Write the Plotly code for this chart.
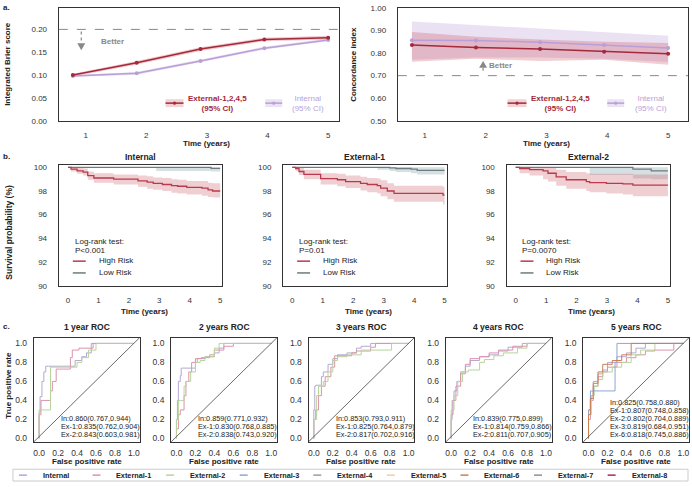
import plotly.graph_objects as go

W, H = 692, 487
FONT = "Liberation Sans, Arial, sans-serif"

# ---------------- a. Brier score / concordance index ----------------
years = [1, 2, 3, 4, 5]
year_labels = ["1", "2", "3", "4", "5"]

brier_ext = [0.100, 0.127, 0.157, 0.178, 0.182]
brier_ext_lo = [0.097, 0.123, 0.153, 0.174, 0.178]
brier_ext_hi = [0.103, 0.131, 0.161, 0.182, 0.186]
brier_int = [0.098, 0.104, 0.131, 0.159, 0.177]
brier_int_lo = [0.096, 0.101, 0.128, 0.156, 0.174]
brier_int_hi = [0.100, 0.107, 0.134, 0.162, 0.180]

cindex_ext = [0.836, 0.825, 0.818, 0.806, 0.797]
cindex_ext_lo = [0.762, 0.775, 0.765, 0.770, 0.748]
cindex_ext_hi = [0.893, 0.872, 0.860, 0.850, 0.845]
cindex_int = [0.857, 0.856, 0.848, 0.836, 0.822]
cindex_int_lo = [0.770, 0.780, 0.780, 0.775, 0.760]
cindex_int_hi = [0.940, 0.925, 0.910, 0.895, 0.877]

# ---------------- b. Kaplan-Meier curves ----------------
km_int_high_t = [0, 0.1, 0.3, 0.5, 0.65, 0.85, 1.5, 2.3, 2.6, 2.8, 3.1, 3.4, 3.6, 3.9, 4.4, 4.6, 4.75, 5.0]
km_int_high_s = [100, 99.85, 99.7, 99.6, 99.3, 99.1, 99.0, 98.85, 98.75, 98.65, 98.55, 98.45, 98.4, 98.3, 98.25, 98.1, 98.0, 98.0]
km_int_high_lo = [100, 99.65, 99.45, 99.3, 98.95, 98.7, 98.55, 98.35, 98.2, 98.1, 98.0, 97.85, 97.8, 97.7, 97.6, 97.5, 97.45, 97.45]
km_int_high_hi = [100, 100, 99.95, 99.9, 99.65, 99.5, 99.4, 99.3, 99.25, 99.15, 99.1, 99.0, 98.95, 98.85, 98.85, 98.7, 98.65, 98.65]
km_int_low_t = [0, 2.9, 4.7, 5.0]
km_int_low_s = [100, 100, 99.92, 99.92]
km_int_low_lo = [100, 99.7, 99.65, 99.65]
km_int_low_hi = [100, 100, 100, 100]

km_ex1_high_t = [0, 0.11, 0.22, 0.38, 0.93, 1.48, 1.75, 2.24, 2.46, 2.79, 2.9, 3.12, 3.34, 4.95, 5.0]
km_ex1_high_s = [100, 99.9, 99.65, 99.4, 99.05, 98.95, 98.8, 98.65, 98.55, 98.45, 98.25, 98.0, 97.8, 97.65, 97.65]
km_ex1_high_lo = [100, 99.7, 99.35, 99.0, 98.55, 98.4, 98.25, 98.05, 97.9, 97.8, 97.55, 97.3, 97.1, 96.85, 96.85]
km_ex1_high_hi = [100, 100, 99.95, 99.8, 99.5, 99.45, 99.3, 99.2, 99.1, 99.05, 98.9, 98.65, 98.45, 98.35, 98.35]
km_ex1_low_t = [0, 2.8, 3.2, 3.4, 3.9, 4.1, 5.0]
km_ex1_low_s = [100, 100, 99.95, 99.9, 99.85, 99.75, 99.75]
km_ex1_low_lo = [100, 99.8, 99.7, 99.6, 99.5, 99.4, 99.35]
km_ex1_low_hi = [100, 100, 100, 100, 100, 100, 100]

km_ex2_high_t = [0, 0.13, 0.46, 0.9, 1.06, 1.33, 1.66, 2.32, 2.43, 2.98, 3.52, 3.85, 5.0]
km_ex2_high_s = [100, 99.9, 99.8, 99.7, 99.5, 99.2, 98.95, 98.8, 98.7, 98.65, 98.6, 98.5, 98.5]
km_ex2_high_lo = [100, 99.5, 99.3, 99.0, 98.8, 98.45, 98.2, 98.0, 97.9, 97.8, 97.7, 97.55, 97.5]
km_ex2_high_hi = [100, 100, 100, 100, 99.95, 99.8, 99.6, 99.5, 99.45, 99.45, 99.45, 99.4, 99.4]
km_ex2_low_t = [0, 2.43, 3.85, 4.45, 5.0]
km_ex2_low_s = [100, 100, 99.85, 99.7, 99.7]
km_ex2_low_lo = [100, 99.35, 99.05, 99.0, 99.0]
km_ex2_low_hi = [100, 100, 100, 100, 100]

km_titles = ["Internal", "External-1", "External-2"]
km_pvalues = ["P<0.001", "P=0.01", "P=0.0070"]

# ---------------- c. time-dependent ROC ----------------
roc_1y = {
    "Internal": ([0, 0.01, 0.03, 0.05, 0.07, 0.1, 0.38, 0.45, 0.5, 0.55, 0.6, 1],
                 [0, 0.27, 0.44, 0.6, 0.7, 0.76, 0.76, 0.82, 0.86, 0.9, 1.0, 1.0]),
    "External-1": ([0, 0.02, 0.04, 0.12, 0.14, 0.18, 0.2, 0.33, 0.35, 0.42, 0.57, 0.65, 1],
                   [0, 0.25, 0.4, 0.4, 0.5, 0.6, 0.73, 0.73, 0.85, 0.93, 0.95, 1.0, 1.0]),
    "External-2": ([0, 0.03, 0.12, 0.14, 0.4, 0.45, 0.52, 0.6, 0.65, 1],
                   [0, 0.3, 0.3, 0.75, 0.75, 0.8, 0.85, 0.93, 1.0, 1.0]),
}
roc_2y = {
    "Internal": ([0, 0.01, 0.02, 0.04, 0.05, 0.06, 0.2, 0.22, 0.3, 0.4, 0.45, 0.5, 0.55, 1],
                 [0, 0.2, 0.4, 0.6, 0.66, 0.74, 0.74, 0.8, 0.84, 0.86, 0.9, 0.95, 1.0, 1.0]),
    "External-1": ([0, 0.02, 0.04, 0.08, 0.1, 0.13, 0.16, 0.2, 0.26, 0.35, 0.4, 0.5, 0.6, 0.62, 1],
                   [0, 0.1, 0.25, 0.3, 0.45, 0.6, 0.7, 0.8, 0.84, 0.85, 0.88, 0.93, 0.97, 1.0, 1.0]),
    "External-2": ([0, 0.02, 0.04, 0.08, 0.1, 0.15, 0.2, 0.25, 0.3, 0.4, 0.45, 0.5, 1],
                   [0, 0.2, 0.4, 0.4, 0.55, 0.6, 0.7, 0.8, 0.82, 0.86, 0.95, 1.0, 1.0]),
}
roc_3y = {
    "Internal": ([0, 0.01, 0.02, 0.08, 0.1, 0.15, 0.2, 0.25, 0.35, 0.45, 0.5, 0.6, 0.65, 1],
                 [0, 0.3, 0.55, 0.56, 0.65, 0.7, 0.78, 0.84, 0.88, 0.9, 0.95, 0.97, 1.0, 1.0]),
    "External-1": ([0, 0.02, 0.05, 0.08, 0.12, 0.18, 0.22, 0.28, 0.4, 0.45, 0.6, 0.65, 0.7, 1],
                   [0, 0.2, 0.3, 0.45, 0.55, 0.65, 0.75, 0.87, 0.87, 0.9, 0.92, 0.96, 1.0, 1.0]),
    "External-2": ([0, 0.03, 0.05, 0.1, 0.15, 0.2, 0.25, 0.35, 0.5, 0.6, 0.82, 0.85, 1],
                   [0, 0.2, 0.45, 0.55, 0.6, 0.7, 0.82, 0.86, 0.88, 0.93, 0.93, 1.0, 1.0]),
}
roc_4y = {
    "Internal": ([0, 0.01, 0.03, 0.06, 0.1, 0.15, 0.2, 0.3, 0.4, 0.5, 0.6, 0.75, 0.85, 1],
                 [0, 0.2, 0.4, 0.5, 0.6, 0.7, 0.76, 0.82, 0.86, 0.88, 0.92, 0.96, 1.0, 1.0]),
    "External-1": ([0, 0.02, 0.05, 0.1, 0.15, 0.2, 0.3, 0.4, 0.5, 0.65, 0.8, 0.85, 1],
                   [0, 0.25, 0.4, 0.55, 0.68, 0.78, 0.84, 0.86, 0.9, 0.93, 0.97, 1.0, 1.0]),
    "External-2": ([0, 0.03, 0.07, 0.12, 0.18, 0.3, 0.35, 0.45, 0.55, 0.7, 0.8, 0.85, 1],
                   [0, 0.3, 0.45, 0.6, 0.7, 0.72, 0.8, 0.83, 0.87, 0.9, 0.95, 1.0, 1.0]),
}
roc_5y = {
    "Internal": ([0, 0.02, 0.05, 0.1, 0.15, 0.2, 0.3, 0.4, 0.5, 0.6, 0.65, 1],
                 [0, 0.3, 0.45, 0.6, 0.68, 0.72, 0.8, 0.86, 0.9, 0.95, 1.0, 1.0]),
    "External-1": ([0, 0.02, 0.05, 0.1, 0.15, 0.2, 0.3, 0.4, 0.5, 0.6, 0.7, 0.9, 0.95, 1],
                   [0, 0.2, 0.4, 0.55, 0.65, 0.7, 0.75, 0.8, 0.85, 0.88, 0.92, 0.93, 1.0, 1.0]),
    "External-2": ([0, 0.03, 0.06, 0.1, 0.15, 0.25, 0.35, 0.45, 0.55, 0.7, 0.78, 1],
                   [0, 0.25, 0.45, 0.55, 0.62, 0.7, 0.75, 0.8, 0.88, 0.93, 1.0, 1.0]),
    "External-3": ([0, 0.02, 0.05, 0.28, 0.3, 0.32, 1],
                   [0, 0.3, 0.5, 0.5, 0.8, 1.0, 1.0]),
    "External-6": ([0, 0.02, 0.05, 0.1, 0.15, 0.25, 0.35, 0.45, 0.55, 1],
                   [0, 0.25, 0.42, 0.58, 0.7, 0.78, 0.82, 0.88, 1.0, 1.0]),
}
roc_sets = [roc_1y, roc_2y, roc_3y, roc_4y, roc_5y]
roc_titles = ["1 year ROC", "2 years ROC", "3 years ROC", "4 years ROC", "5 years ROC"]
roc_auc_text = [
    ["In:0.860(0.767,0.944)", "Ex-1:0.835(0.762,0.904)", "Ex-2:0.843(0.603,0.981)"],
    ["In:0.859(0.771,0.932)", "Ex-1:0.830(0.768,0.885)", "Ex-2:0.838(0.743,0.920)"],
    ["In:0.853(0.793,0.911)", "Ex-1:0.825(0.764,0.879)", "Ex-2:0.817(0.702,0.916)"],
    ["In:0.839(0.775,0.899)", "Ex-1:0.814(0.759,0.866)", "Ex-2:0.811(0.707,0.905)"],
    ["In:0.825(0.758,0.880)", "Ex-1:0.807(0.748,0.858)", "Ex-2:0.802(0.704,0.889)",
     "Ex-3:0.819(0.684,0.951)", "Ex-6:0.818(0.745,0.886)"],
]
cohorts = ["Internal", "External-1", "External-2", "External-3", "External-4",
           "External-5", "External-6", "External-7", "External-8"]
cohort_colors = ["#b3a8d3", "#dc93ab", "#b7d49b", "#8fa6d4", "#a39b8e",
                 "#ecd2a0", "#cb8150", "#8d9095", "#a3304a"]
ticks01 = [0, 0.2, 0.4, 0.6, 0.8, 1.0]
ticks01_lab = ["0.0", "0.2", "0.4", "0.6", "0.8", "1.0"]

EXT_RED = "#a5283b"
INT_LAV = "#b99fd8"
HIGH = "#b83a4c"
LOW = "#6d7c7f"

fig = go.Figure()
layout = {}
annos = []
shapes = []


def px(x):
    return x / W


def py(y):
    return 1 - y / H


def make_axes(n, box, xr, yr, xtv, xtt, ytv, ytt, fsize, xstand, ystand):
    x0, x1, y0, y1 = box
    s = "" if n == 1 else str(n)
    common = dict(showline=True, mirror=True, linecolor="#333", linewidth=1.3,
                  showgrid=False, zeroline=False, ticks="", tickmode="array",
                  tickfont=dict(size=fsize, color="#333", family=FONT))
    layout["xaxis" + s] = dict(domain=[px(x0), px(x1)], range=xr, anchor="y" + s,
                               tickvals=xtv, ticktext=xtt, ticklabelstandoff=xstand, **common)
    layout["yaxis" + s] = dict(domain=[py(y1), py(y0)], range=yr, anchor="x" + s,
                               tickvals=ytv, ticktext=ytt, ticklabelstandoff=ystand, **common)
    return "x" + s, "y" + s


def text(x, y, t, size=8, color="#222", xanchor="center", angle=0):
    annos.append(dict(x=px(x), y=py(y), xref="paper", yref="paper",
                      text=t, showarrow=False, textangle=angle, xanchor=xanchor,
                      yanchor="middle", font=dict(size=size, color=color, family=FONT)))


def axis_text(xref, xval, y, t, size=8):
    annos.append(dict(x=xval, y=py(y), xref=xref, yref="paper", text=t, showarrow=False,
                      yanchor="middle", font=dict(size=size, color="#222", family=FONT)))


def pline(x0, y0, x1, y1, color, width=1.5, dash="solid"):
    shapes.append(dict(type="line", xref="paper", yref="paper", x0=px(x0), y0=py(y0),
                       x1=px(x1), y1=py(y1), line=dict(color=color, width=width, dash=dash)))


def band(xa, ya, x, lo, hi, color, shape="linear"):
    fig.add_trace(go.Scatter(x=x, y=lo, xaxis=xa, yaxis=ya, mode="lines", line=dict(width=0, shape=shape),
                             hoverinfo="skip", showlegend=False))
    fig.add_trace(go.Scatter(x=x, y=hi, xaxis=xa, yaxis=ya, mode="lines", line=dict(width=0, shape=shape),
                             fill="tonexty", fillcolor=color, hoverinfo="skip", showlegend=False))


# ---- panel a ----
a_ticks = [1.2, 2.15, 3.1, 4.05, 5.0]
xa1, ya1 = make_axes(1, (58, 339, 4, 119), [0.78, 5.17], [0, 0.247], a_ticks, year_labels,
                     [0, 0.05, 0.10, 0.15, 0.20, 0.25], ["0.00", "0.05", "0.10", "0.15", "0.20", "0.25"], 8, 6, 9)
xa2, ya2 = make_axes(2, (398, 689, 4, 119), [0.78, 5.31], [0.5, 1.0], a_ticks, year_labels,
                     [0.5, 0.6, 0.7, 0.8, 0.9, 1.0], ["0.50", "0.60", "0.70", "0.80", "0.90", "1.00"], 8, 6, 9)

band(xa1, ya1, years, brier_int_lo, brier_int_hi, "rgba(190,160,220,0.35)")
band(xa1, ya1, years, brier_ext_lo, brier_ext_hi, "rgba(205,70,80,0.3)")
fig.add_trace(go.Scatter(x=years, y=brier_int, xaxis=xa1, yaxis=ya1, mode="lines+markers",
                         line=dict(color=INT_LAV, width=1.5), marker=dict(size=4), showlegend=False))
fig.add_trace(go.Scatter(x=years, y=brier_ext, xaxis=xa1, yaxis=ya1, mode="lines+markers",
                         line=dict(color=EXT_RED, width=1.5), marker=dict(size=4), showlegend=False))

band(xa2, ya2, years, cindex_int_lo, cindex_int_hi, "rgba(195,170,222,0.35)")
band(xa2, ya2, years, cindex_ext_lo, cindex_ext_hi, "rgba(205,80,90,0.28)")
fig.add_trace(go.Scatter(x=years, y=cindex_int, xaxis=xa2, yaxis=ya2, mode="lines+markers",
                         line=dict(color=INT_LAV, width=1.5), marker=dict(size=4), showlegend=False))
fig.add_trace(go.Scatter(x=years, y=cindex_ext, xaxis=xa2, yaxis=ya2, mode="lines+markers",
                         line=dict(color=EXT_RED, width=1.5), marker=dict(size=4), showlegend=False))

# reference lines
shapes.append(dict(type="line", xref="x domain", yref="y", x0=0, x1=1, y0=0.2, y1=0.2,
                   line=dict(color="#888", width=1, dash="dash")))
shapes.append(dict(type="line", xref="x2 domain", yref="y2", x0=0, x1=1, y0=0.7, y1=0.7,
                   line=dict(color="#888", width=1, dash="dash")))

# "Better" arrows
pline(80.5, 28, 80.5, 40, "#888", 1.2, "dot")
shapes.append(dict(type="path", xref="paper", yref="paper", fillcolor="#888", line=dict(width=0),
                   path=f"M {px(76.5)} {py(40)} L {px(84.5)} {py(40)} L {px(80.5)} {py(47)} Z"))
text(112, 38, "<b>Better</b>", 8, "#888")
pline(483.5, 65, 483.5, 69, "#888", 1.2, "dot")
shapes.append(dict(type="path", xref="paper", yref="paper", fillcolor="#888", line=dict(width=0),
                   path=f"M {px(479.5)} {py(65)} L {px(487.5)} {py(65)} L {px(483.5)} {py(58)} Z"))
text(501, 63, "<b>Better</b>", 8, "#888")


def a_legend_item(x0, x1, yc, line_color, band_color):
    shapes.append(dict(type="rect", xref="paper", yref="paper", x0=px(x0), x1=px(x1),
                       y0=py(yc + 4), y1=py(yc - 4), fillcolor=band_color, line=dict(width=0)))
    pline(x0, yc, x1, yc, line_color, 1.5)
    xc = (x0 + x1) / 2
    shapes.append(dict(type="circle", xref="paper", yref="paper", x0=px(xc - 1.6), x1=px(xc + 1.6),
                       y0=py(yc + 1.6), y1=py(yc - 1.6), fillcolor=line_color, line=dict(width=0)))


a_legend_item(165, 183, 101, EXT_RED, "rgba(205,70,80,0.25)")
text(217, 101.5, "<b>External-1,2,4,5<br>(95% CI)</b>", 8, EXT_RED)
a_legend_item(265, 282, 101, INT_LAV, "rgba(190,160,220,0.3)")
text(308, 101.5, "Internal<br>(95% CI)", 8, INT_LAV)
a_legend_item(508, 527, 101, EXT_RED, "rgba(205,70,80,0.25)")
text(561, 101.5, "<b>External-1,2,4,5<br>(95% CI)</b>", 8, EXT_RED)
a_legend_item(608, 625, 101, INT_LAV, "rgba(190,160,220,0.3)")
text(652, 101.5, "Internal<br>(95% CI)", 8, INT_LAV)

text(7, 61, "<b>Integrated Brier score</b>", 8, "#222", angle=-90)
text(354, 61, "<b>Concordance index</b>", 8, "#222", angle=-90)
axis_text(xa1, 3.1, 142, "<b>Time (years)</b>")
axis_text(xa2, 3.1, 142, "<b>Time (years)</b>")

# ---- panel b ----
km_sets = [
    (km_int_high_t, km_int_high_s, km_int_high_lo, km_int_high_hi,
     km_int_low_t, km_int_low_s, km_int_low_lo, km_int_low_hi),
    (km_ex1_high_t, km_ex1_high_s, km_ex1_high_lo, km_ex1_high_hi,
     km_ex1_low_t, km_ex1_low_s, km_ex1_low_lo, km_ex1_low_hi),
    (km_ex2_high_t, km_ex2_high_s, km_ex2_high_lo, km_ex2_high_hi,
     km_ex2_low_t, km_ex2_low_s, km_ex2_low_lo, km_ex2_low_hi),
]
km_boxes = [(58, 222), (283, 447), (507, 671)]
for i, (kb, data) in enumerate(zip(km_boxes, km_sets)):
    xa, ya = make_axes(3 + i, (kb[0], kb[1], 164, 287), [-0.3, 5.07], [90, 100.2],
                       [0, 1, 2, 3, 4, 5], ["0", "1", "2", "3", "4", "5"],
                       [90, 92, 94, 96, 98, 100], ["90", "92", "94", "96", "98", "100"], 8, 7, 9)
    ht, hs, hlo, hhi, lt, ls, llo, lhi = data
    band(xa, ya, lt, llo, lhi, "rgba(120,150,155,0.3)", "hv")
    band(xa, ya, ht, hlo, hhi, "rgba(205,95,110,0.3)", "hv")
    fig.add_trace(go.Scatter(x=lt, y=ls, xaxis=xa, yaxis=ya, mode="lines",
                             line=dict(color=LOW, width=1.3, shape="hv"), showlegend=False))
    fig.add_trace(go.Scatter(x=ht, y=hs, xaxis=xa, yaxis=ya, mode="lines",
                             line=dict(color=HIGH, width=1.3, shape="hv"), showlegend=False))
    cx = (kb[0] + kb[1]) / 2
    text(cx, 156, "<b>" + km_titles[i] + "</b>", 8.5)
    axis_text(xa, 2.5, 313, "<b>Time (years)</b>")
    lx = kb[0] + 14
    text(lx, 242, "Log-rank test:", 8, "#222", "left")
    text(lx, 251, km_pvalues[i], 8, "#222", "left")
    pline(lx, 262, lx + 13, 262, HIGH, 1.5)
    pline(lx, 274, lx + 13, 274, LOW, 1.5)
    text(lx + 24, 261, "High Risk", 8, "#222", "left")
    text(lx + 24, 273.5, "Low Risk", 8, "#222", "left")

text(8, 232, "<b>Survival probability (%)</b>", 8.5, "#222", angle=-90)

# ---- panel c ----
for i, roc in enumerate(roc_sets):
    bx0 = 33 + 137.75 * i
    xa, ya = make_axes(6 + i, (bx0, bx0 + 106, 340, 446), [-0.055, 1.06], [-0.035, 1.06],
                       ticks01, ticks01_lab, ticks01, ticks01_lab, 8.5, 3, 4)
    shapes.append(dict(type="line", xref=xa + " domain", yref=ya + " domain", x0=0, y0=0, x1=1, y1=1,
                       line=dict(color="#444", width=0.8)))
    for name, (fpr, tpr) in roc.items():
        col = cohort_colors[cohorts.index(name)]
        fig.add_trace(go.Scatter(x=fpr, y=tpr, xaxis=xa, yaxis=ya, mode="lines",
                                 line=dict(color=col, width=1, shape="vh"), showlegend=False))
    text(bx0 + 53, 329, "<b>" + roc_titles[i] + "</b>", 8.5)
    axis_text(xa, 0.5, 466, "<b>False positive rate</b>")
    lines = roc_auc_text[i]
    for j, t in enumerate(lines):
        yy = 439 - 8.2 * (len(lines) - 1 - j)
        text(bx0 + 25, yy, t, 7.3, "#222", "left")

text(8, 388, "<b>True positive rate</b>", 8, "#222", angle=-90)

# bottom legend
shapes.append(dict(type="rect", xref="paper", yref="paper", x0=px(12), x1=px(689), y0=py(486), y1=py(474),
                   line=dict(color="#cccccc", width=1), fillcolor="rgba(0,0,0,0)"))
for k, (name, col) in enumerate(zip(cohorts, cohort_colors)):
    lx = 18 + 73.8 * k
    pline(lx, 480, lx + 8, 480, col, 1.5)
    text(lx + 22, 480, "<b>" + name + "</b>", 7.3, "#222", "left")

# panel letters
text(0, 4, "<b>a.</b>", 8, "#222", "left")
text(0, 155, "<b>b.</b>", 8, "#222", "left")
text(0, 329, "<b>c.</b>", 8, "#222", "left")

fig.update_layout(**layout)
fig.update_layout(width=W, height=H, margin=dict(l=0, r=0, t=0, b=0),
                  paper_bgcolor="white", plot_bgcolor="white", showlegend=False,
                  font=dict(family=FONT, size=8, color="#222"),
                  annotations=annos, shapes=shapes)
# remove the page margin so the figure sits at the window's top-left corner
fig.write_html("out.html", config={"displayModeBar": False},
               post_script="document.body.style.margin='0';")
